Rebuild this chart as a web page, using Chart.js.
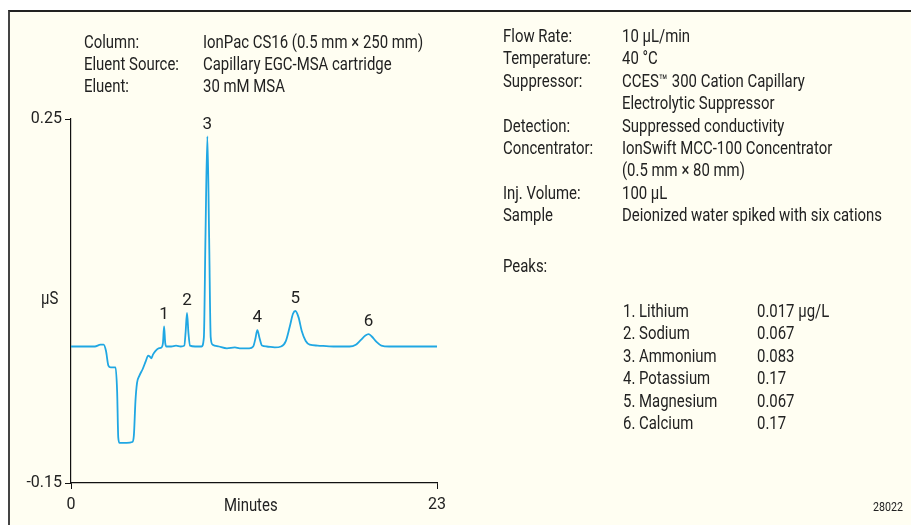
<!DOCTYPE html>
<html>
<head>
<meta charset="utf-8">
<script src="https://cdn.jsdelivr.net/npm/chart.js@4.4.1/dist/chart.umd.min.js"></script>
<style>
  html, body { margin: 0; padding: 0; background: #fff; }
  #page { position: relative; width: 911px; height: 525px; overflow: hidden; background: #fff; }
  #panel { position: absolute; left: 8px; top: 10px; width: 903px; height: 515px; background: #fffef2;
           border-left: 2px solid #444; border-top: 2px solid #222; box-sizing: border-box; }
  #wrap { position: absolute; left: 0; top: 0; width: 911px; height: 525px; }
  .t { position: absolute; font-family: Roboto, 'Liberation Sans', sans-serif;
       font-size: 17.5px; line-height: 22px; color: #222; white-space: nowrap; transform-origin: 0 50%; }
</style>
</head>
<body>
<div id="page">
  <div id="panel"></div>
  <div id="wrap"><canvas id="chrom" width="911" height="525"></canvas></div>
  <div id="texts"></div>
</div>
<script>
'use strict';

// retention time (min) and conductivity (µS)
var times = [0, 1.5, 1.85, 2.05, 2.2, 2.35, 2.5, 2.8, 2.9, 2.97, 3.05, 3.5, 3.85, 3.95, 4.05, 4.15, 4.3, 4.5,
  4.7, 4.85, 4.95, 5.05, 5.15, 5.3, 5.5, 5.7, 5.78, 5.85, 5.92, 6.0, 6.3, 6.6, 6.9, 7.12, 7.2, 7.29, 7.38,
  7.48, 7.8, 8.2, 8.35, 8.45, 8.57, 8.68, 8.78, 8.9, 9.3, 9.8, 10.3, 10.6, 11.2, 11.45, 11.58, 11.71, 11.85,
  12.0, 12.3, 12.8, 13.2, 13.5, 13.75, 13.95, 14.1, 14.3, 14.5, 14.75, 15.0, 15.5, 16.5, 17.5, 17.9, 18.2,
  18.5, 18.7, 18.9, 19.2, 19.5, 20.0, 21.5, 23.0];
var signal = [0, 0, 0.002, 0.002, -0.005, -0.021, -0.023, -0.023, -0.05, -0.1, -0.106, -0.106, -0.105, -0.098,
  -0.06, -0.04, -0.032, -0.025, -0.016, -0.01, -0.011, -0.013, -0.009, -0.005, -0.002, -0.001, 0.004, 0.022,
  0.004, 0, 0, 0.001, 0, 0.001, 0.015, 0.037, 0.015, 0.001, 0, 0, 0.01, 0.12, 0.231, 0.12, 0.01, 0.002, 0,
  -0.002, -0.001, -0.002, -0.002, 0, 0.008, 0.018, 0.009, 0.001, 0, -0.001, 0, 0.006, 0.022, 0.036, 0.039,
  0.032, 0.017, 0.006, 0.002, 0.001, 0, 0, 0.002, 0.007, 0.012, 0.0135, 0.011, 0.005, 0.001, 0, 0, 0];

var peakNumbers = ['1', '2', '3', '4', '5', '6'];
var peakTimes = [5.85, 7.29, 8.57, 11.71, 14.1, 18.7];
var peakHeights = [0.022, 0.037, 0.231, 0.018, 0.039, 0.0135];

var yTicks = [-0.15, 0.25];
var xTicks = [0, 23];

var conditionsLeft = [
  ['Column:', 'IonPac CS16 (0.5 mm \u00d7 250 mm)'],
  ['Eluent Source:', 'Capillary EGC-MSA cartridge'],
  ['Eluent:', '30 mM MSA']
];
var conditionsRight = [
  ['Flow Rate:', '10 \u00b5L/min'],
  ['Temperature:', '40 \u00b0C'],
  ['Suppressor:', 'CCES\u2122 300 Cation Capillary'],
  ['', 'Electrolytic Suppressor'],
  ['Detection:', 'Suppressed conductivity'],
  ['Concentrator:', 'IonSwift MCC-100 Concentrator'],
  ['', '(0.5 mm \u00d7 80 mm)'],
  ['Inj. Volume:', '100 \u00b5L'],
  ['Sample', 'Deionized water spiked with six cations']
];
var peakNames = ['1. Lithium', '2. Sodium', '3. Ammonium', '4. Potassium', '5. Magnesium', '6. Calcium'];
var peakAmounts = ['0.017 \u00b5g/L', '0.067', '0.083', '0.17', '0.067', '0.17'];

var FONT = "Roboto, 'Liberation Sans', sans-serif";
var SQUEEZE = 1;

function addText(txt, x, y, extra, centered) {
  var d = document.createElement('div');
  d.className = 't';
  d.textContent = txt;
  if (extra) { for (var k in extra) { d.style[k] = extra[k]; } }
  document.getElementById('texts').appendChild(d);
  var w = d.offsetWidth * SQUEEZE;
  d.style.left = (centered ? x - w / 2 : x) + 'px';
  d.style.top = (y - 11) + 'px';
  d.style.transform = 'scaleX(' + SQUEEZE + ')';
  return d;
}

// the reference uses a condensed face: squeeze a regular one to the same width
(function () {
  var probe = addText(conditionsLeft[0][1], 0, -100);
  SQUEEZE = 220 / probe.offsetWidth;
  probe.remove();
})();

conditionsLeft.forEach(function (row, i) {
  addText(row[0], 84, 42 + i * 22.2);
  addText(row[1], 203, 42 + i * 22.2);
});
conditionsRight.forEach(function (row, i) {
  if (row[0]) { addText(row[0], 503, 36 + i * 22.4); }
  addText(row[1], 622, 36 + i * 22.4);
});
addText('Peaks:', 503, 266);
peakNames.forEach(function (name, i) {
  addText(name, 623, 311 + i * 22.4);
  addText(peakAmounts[i], 757, 311 + i * 22.4);
});
addText('\u00b5S', 41, 298);
addText('Minutes', 251, 505, null, true);
addText('28022', 873, 507, { fontSize: '12.5px' });

var peakLabels = {
  id: 'peakLabels',
  afterDatasetsDraw: function (chart) {
    var c = chart.ctx, xs = chart.scales.x, ys = chart.scales.y;
    c.save();
    c.fillStyle = '#222';
    c.font = '17px ' + FONT;
    c.textAlign = 'center';
    c.textBaseline = 'middle';
    peakNumbers.forEach(function (n, i) {
      c.fillText(n, xs.getPixelForValue(peakTimes[i]), ys.getPixelForValue(peakHeights[i]) - 12);
    });
    c.restore();
  }
};

new Chart(document.getElementById('chrom'), {
  type: 'line',
  data: {
    datasets: [{
      data: times.map(function (t, i) { return { x: t, y: signal[i] }; }),
      borderColor: '#20a7e3',
      borderWidth: 1.8,
      pointRadius: 0,
      cubicInterpolationMode: 'monotone',
      fill: false
    }]
  },
  options: {
    responsive: false,
    animation: false,
    layout: { padding: { left: 0, top: 119, right: 474, bottom: 8 } },
    plugins: { legend: { display: false }, tooltip: { enabled: false } },
    scales: {
      x: {
        type: 'linear', min: 0, max: 23,
        afterBuildTicks: function (s) { s.ticks = xTicks.map(function (v) { return { value: v }; }); },
        afterFit: function (s) { s.height = 34; },
        grid: { drawOnChartArea: false, color: '#111', tickLength: 6 },
        border: { color: '#111', width: 1.2 },
        ticks: { color: '#222', font: { family: FONT, size: 16 }, padding: 6, maxRotation: 0 }
      },
      y: {
        type: 'linear', min: -0.15, max: 0.25,
        afterBuildTicks: function (s) { s.ticks = yTicks.map(function (v) { return { value: v }; }); },
        afterFit: function (s) { s.width = 71; },
        grid: { drawOnChartArea: false, color: '#111', tickLength: 6 },
        border: { color: '#111', width: 1.2 },
        ticks: { color: '#222', font: { family: FONT, size: 16 }, padding: 3,
                 callback: function (v) { return v.toFixed(2); } }
      }
    }
  },
  plugins: [peakLabels]
});
</script>
</body>
</html>
